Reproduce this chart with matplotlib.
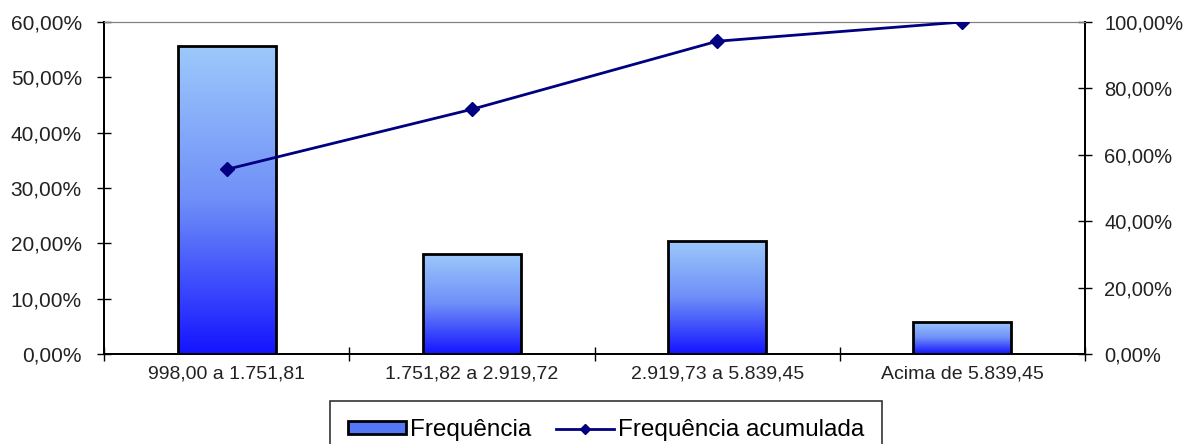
import numpy as np
import matplotlib.pyplot as plt
from matplotlib.colors import LinearSegmentedColormap
from matplotlib.ticker import FuncFormatter

plt.rcParams['font.family'] = ['Liberation Sans', 'DejaVu Sans']

categories = ["998,00 a 1.751,81", "1.751,82 a 2.919,72", "2.919,73 a 5.839,45", "Acima de 5.839,45"]
freq = [0.556, 0.181, 0.205, 0.058]
freq_acum = [0.556, 0.737, 0.942, 1.000]

def pct(v, pos):
    return ("%.2f%%" % (v * 100)).replace(".", ",")

fig = plt.figure(figsize=(11.93, 4.44), dpi=100)
ax = fig.add_axes([0.0872, 0.2027, 0.8223, 0.7478])
ax2 = ax.twinx()

x = np.arange(len(categories))
width = 0.4
cmap = LinearSegmentedColormap.from_list("barblue", ["#1414ff", "#6f8ff8", "#9cc9fb"])
grad = np.linspace(0, 1, 256).reshape(-1, 1)

bars = ax.bar(x, freq, width, facecolor="none", edgecolor="black", linewidth=2, zorder=3)
for b in bars:
    x0, y0 = b.get_x(), b.get_y()
    im = ax.imshow(grad, extent=[x0, x0 + b.get_width(), y0, y0 + b.get_height()],
                   origin="lower", aspect="auto", cmap=cmap, zorder=2)
    im.set_clip_path(b)

ax.set_xlim(-0.5, len(categories) - 0.5)
ax.set_ylim(0, 0.6)
ax.set_yticks(np.arange(0, 0.61, 0.1))
ax.yaxis.set_major_formatter(FuncFormatter(pct))

# category boundaries as ticks, labels at centers
ax.set_xticks(np.arange(-0.5, len(categories), 1.0))
ax.set_xticklabels([])
ax.set_xticks(x, minor=True)
ax.set_xticklabels(categories, minor=True)
ax.tick_params(axis="x", which="major", direction="inout", length=10, width=1)
ax.tick_params(axis="x", which="minor", length=0, pad=8, labelsize=14, labelcolor="#222222")
ax.tick_params(axis="y", direction="inout", length=10, width=1, labelsize=15, labelcolor="#222222", pad=11)

ax2.plot(x, freq_acum, color="#000080", linewidth=2, marker="D", markersize=7, zorder=4,
         label="Frequência acumulada")
ax2.set_ylim(0, 1.0)
ax2.set_yticks(np.arange(0, 1.01, 0.2))
ax2.yaxis.set_major_formatter(FuncFormatter(pct))
ax2.tick_params(axis="y", direction="inout", length=10, width=1, labelsize=14.5, labelcolor="#222222", pad=9)

for a in (ax, ax2):
    a.spines["top"].set_color("#808080")
    for s in ("left", "right", "bottom"):
        a.spines[s].set_linewidth(1.3)
        a.spines[s].set_color("black")
ax.set_zorder(ax2.get_zorder() - 1)
ax2.patch.set_visible(False)

bar_handle = plt.Rectangle((0, 0), 1, 1, facecolor="#5577f5", edgecolor="black", linewidth=2)
line_handle = ax2.get_lines()[0]
leg = fig.legend([bar_handle, line_handle], ["Frequência", "Frequência acumulada"],
                 loc="upper center", bbox_to_anchor=(0.508, 0.097), ncol=2, fontsize=17.5,
                 frameon=True, fancybox=False, edgecolor="black", handlelength=2.4,
                 handleheight=0.4, handletextpad=0.15, columnspacing=1.0, borderpad=0.75,
                 borderaxespad=0, markerscale=0.8)
leg.get_frame().set_linewidth(1.2)

fig.savefig("out.png", dpi=100)
